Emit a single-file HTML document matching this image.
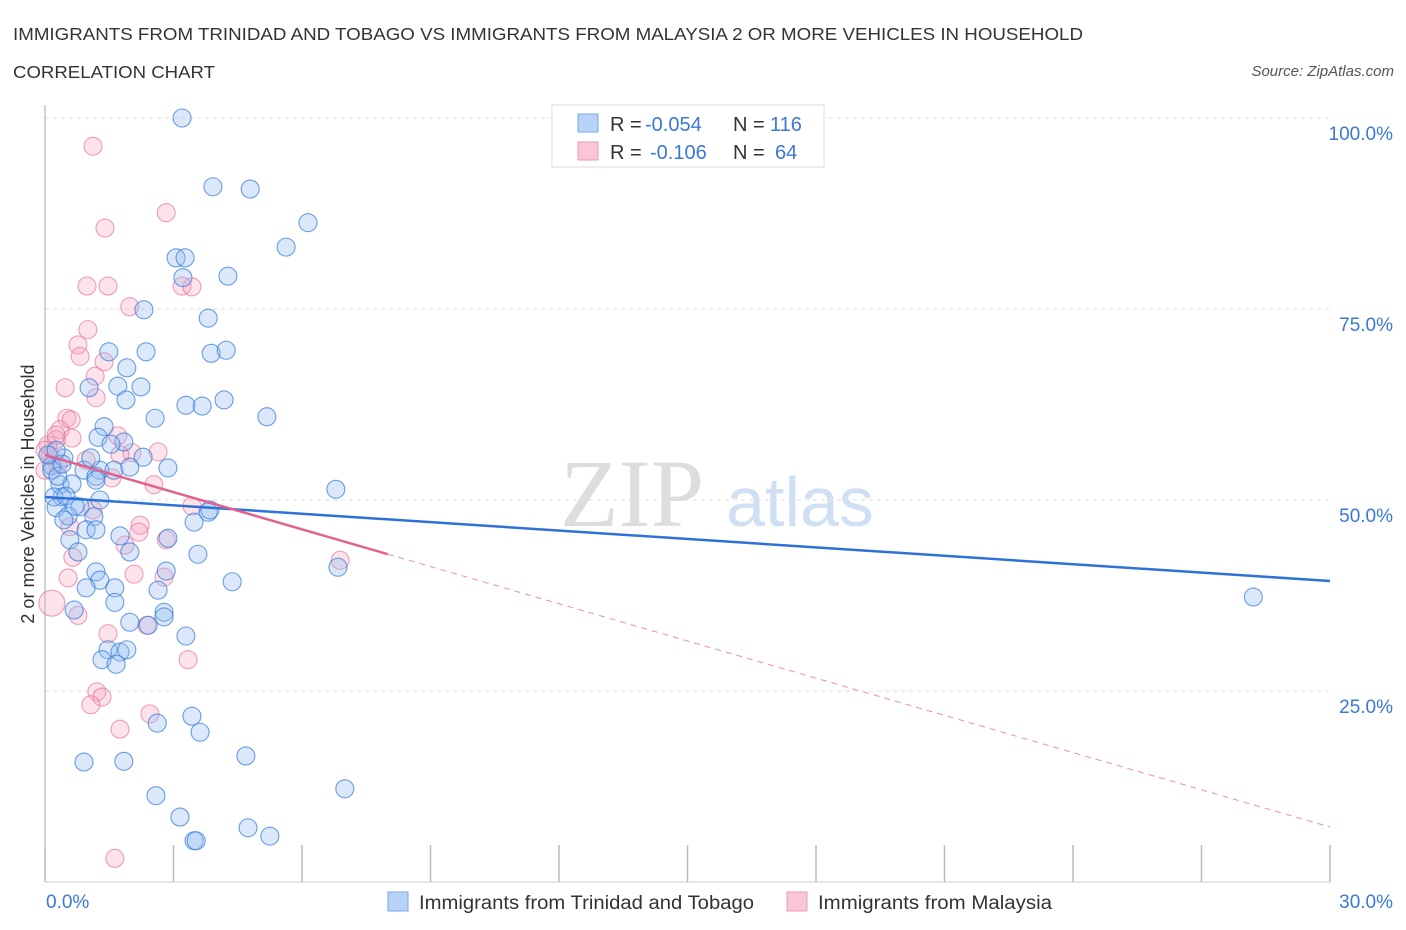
<!DOCTYPE html>
<html><head><meta charset="utf-8"><style>
body{margin:0;background:#fff;width:1406px;height:930px;overflow:hidden;font-family:"Liberation Sans",sans-serif}
svg{position:absolute;left:0;top:0}
</style></head><body>
<svg id="chart" width="1406" height="930">
<text x="13" y="40" font-size="17.5" fill="#333" textLength="1070" lengthAdjust="spacingAndGlyphs">IMMIGRANTS FROM TRINIDAD AND TOBAGO VS IMMIGRANTS FROM MALAYSIA 2 OR MORE VEHICLES IN HOUSEHOLD</text>
<text x="13" y="78" font-size="17.5" fill="#333" textLength="202" lengthAdjust="spacingAndGlyphs">CORRELATION CHART</text>
<text x="1394" y="76" font-size="15" fill="#555" font-style="italic" text-anchor="end">Source: ZipAtlas.com</text>
<text x="34" y="494" font-size="18" fill="#333" text-anchor="middle" transform="rotate(-90 34 494)">2 or more Vehicles in Household</text>
<g><text x="632" y="526" font-size="96" fill="#ddd" font-family="Liberation Serif,serif" text-anchor="middle">ZIP</text><text x="800" y="526" font-size="70" fill="#cfe0f3" text-anchor="middle">atlas</text></g>
<g id="grid"></g><g id="axes"></g><g id="pts"></g><g id="trends"></g>
<g>
<rect x="552" y="105" width="272" height="62" fill="#fff" stroke="#ddd"/>
<rect x="578" y="114" width="20" height="18" fill="#b8d3f5" stroke="#7aa8e6"/>
<rect x="578" y="142" width="20" height="18" fill="#f9c6d6" stroke="#eb9ab3"/>
<text x="610" y="131" font-size="20" fill="#333">R =</text>
<text x="645" y="131" font-size="20" fill="#3a78d8">-0.054</text>
<text x="733" y="131" font-size="20" fill="#333">N =</text>
<text x="770" y="131" font-size="20" fill="#3a78d8">116</text>
<text x="610" y="159" font-size="20" fill="#333">R =</text>
<text x="650" y="159" font-size="20" fill="#3a78d8">-0.106</text>
<text x="733" y="159" font-size="20" fill="#333">N =</text>
<text x="775" y="159" font-size="20" fill="#3a78d8">64</text>
</g>
<g>
<rect x="388" y="892" width="20" height="19" fill="#b8d3f5" stroke="#7aa8e6"/>
<text x="419" y="909" font-size="19" fill="#333" textLength="335" lengthAdjust="spacingAndGlyphs">Immigrants from Trinidad and Tobago</text>
<rect x="787" y="892" width="20" height="19" fill="#f9c6d6" stroke="#eb9ab3"/>
<text x="818" y="909" font-size="19" fill="#333" textLength="234" lengthAdjust="spacingAndGlyphs">Immigrants from Malaysia</text>
</g>
</svg>
<script>
const yTicks=[25,50,75,100];
const yTickLabels=["25.0%","50.0%","75.0%","100.0%"];
const xTicks=[0,3,6,9,12,15,18,21,24,27,30];
const xEndLabels=["0.0%","30.0%"];
const blueX=[3.20,3.92,4.79,6.14,5.63,3.06,3.27,3.22,4.27,2.31,3.81,1.49,2.36,3.88,4.23,1.91,1.03,1.70,2.24,1.89,4.18,3.29,3.67,2.57,5.18,1.38,1.24,1.84,1.54,2.29,0.44,1.28,1.61,1.98,2.87,0.16,0.91,1.19,0.35,0.63,0.40,0.21,1.28,0.82,1.14,0.26,0.54,0.44,3.81,3.48,6.79,0.96,1.19,1.75,2.87,0.58,0.77,1.98,3.57,1.19,1.28,4.37,1.63,0.96,2.64,2.83,1.63,0.68,1.98,2.78,2.78,2.41,3.29,1.47,1.75,1.91,1.33,1.66,6.84,3.85,2.62,3.43,3.62,4.69,0.91,1.84,2.59,3.15,3.48,3.53,4.74,5.25,7.00,28.21,0.16,0.30,0.40,0.07,0.26,0.49,0.70,1.07,1.19];
const blueY=[100,91.0,90.7,86.3,83.1,81.7,81.7,79.1,79.3,74.9,73.8,69.4,69.4,69.2,69.6,67.3,64.7,64.9,64.8,63.1,63.1,62.4,62.3,60.7,60.9,59.6,58.2,57.6,57.3,55.6,55.5,53.9,53.9,54.3,54.2,54.5,53.9,53.1,52.0,52.1,50.4,50.4,50.0,49.1,47.8,49.0,47.9,47.4,48.4,47.1,51.4,46.1,46.1,45.3,45.0,44.8,43.2,43.2,42.9,40.6,39.5,39.3,38.5,38.5,38.2,40.7,36.6,35.6,34.0,35.3,34.7,33.6,32.2,30.4,30.1,30.4,29.1,28.5,41.2,48.7,20.8,21.7,19.6,16.5,15.7,15.8,11.3,8.5,5.4,5.4,7.1,6.0,12.2,37.3,53.9,53.1,54.7,55.9,56.5,50.5,49.2,55.5,52.6];
const pinkX=[1.12,2.83,1.40,0.98,1.47,3.20,3.43,1.98,1.00,0.77,0.82,1.38,1.17,0.47,1.19,0.51,0.61,0.35,0.63,0.26,1.70,2.64,2.03,0.07,0.12,0.30,0.96,1.56,2.54,1.75,3.43,0.58,1.12,2.22,2.19,1.87,0.65,0.54,0.16,0.77,1.47,2.38,3.34,1.21,1.33,1.07,1.75,2.45,6.89,1.63,2.83,2.78,2.08,0.0,0.26,0.0];
const pinkY=[96.3,87.6,85.6,78.0,78.0,78.0,77.9,75.3,72.3,70.3,68.8,68.1,66.2,64.7,63.4,60.7,60.5,59.2,58.1,57.9,58.4,56.3,56.2,57.2,55.8,54.6,55.2,52.9,52.0,55.9,49.2,46.5,48.7,46.7,45.8,44.1,42.5,39.8,36.5,34.9,32.5,33.6,29.1,24.9,24.2,23.2,20.0,22.0,42.1,3.1,44.8,39.9,40.3,56.5,58.5,53.9];
const blueTrend=[50.4,39.4];
const pinkTrend=[55.9,7.2];
const pinkSolidEnd=8.0;
const NS="http://www.w3.org/2000/svg";
const X=v=>45+v*1285/30, Y=v=>882-v*7.64;
function mk(t,a,p){const e=document.createElementNS(NS,t);for(const k in a)e.setAttribute(k,a[k]);p.appendChild(e);return e;}
const grid=document.getElementById('grid'),axes=document.getElementById('axes'),pts=document.getElementById('pts'),tr=document.getElementById('trends');
yTicks.forEach((t,i)=>{
  const l=mk('line',{x1:45,x2:1330,y1:Y(t),y2:Y(t),stroke:'#ddd','stroke-dasharray':'4,4'},grid);
  
  
  const tx=mk('text',{x:1393,y:Y(t)+22,'font-size':19,fill:'#3a78d8','text-anchor':'end'},grid);
  tx.textContent=yTickLabels[i];
  
  
});
const ax=mk('line',{x1:45,x2:45,y1:105,y2:882,stroke:'#aaa'},axes);


const bx=mk('line',{x1:45,x2:1330,y1:882,y2:882,stroke:'#ccc'},axes);


xTicks.forEach(t=>{
  const l=mk('line',{x1:X(t),x2:X(t),y1:845,y2:882,stroke:'#bbb','stroke-width':1.5},axes);
  
  
});
[[0,'start',46],[1,'end',1393]].forEach(([i,a,x])=>{
  const tx=mk('text',{x:x,y:908,'font-size':19,fill:'#3a78d8','text-anchor':a},axes);
  tx.textContent=xEndLabels[i];
  
  
});
function dots(xs,ys,fill,stroke,name){
  xs.forEach((v,i)=>{
    const big=(name==='pink-point'&&xs[i]===0.16&&ys[i]===36.5);
    const c=mk('circle',{cx:X(v),cy:Y(ys[i]),r:big?13:9,fill:fill,stroke:stroke,'stroke-width':1.1},pts);
    
    
  });
}
dots(pinkX,pinkY,'rgba(245,160,190,0.3)','rgba(230,110,150,0.65)','pink-point');
dots(blueX,blueY,'rgba(150,190,240,0.35)','rgba(50,120,215,0.7)','blue-point');
const bt=mk('line',{x1:X(0),y1:Y(blueTrend[0]),x2:X(30),y2:Y(blueTrend[1]),stroke:'#2f72d6','stroke-width':2.5},tr);


const pf=v=>pinkTrend[0]+(pinkTrend[1]-pinkTrend[0])*v/30;
const ps=mk('line',{x1:X(0),y1:Y(pinkTrend[0]),x2:X(pinkSolidEnd),y2:Y(pf(pinkSolidEnd)),stroke:'#e2628f','stroke-width':2.5},tr);


const pd=mk('line',{x1:X(pinkSolidEnd),y1:Y(pf(pinkSolidEnd)),x2:X(30),y2:Y(pinkTrend[1]),stroke:'#ec8fb0','stroke-width':1,'stroke-dasharray':'6,5'},tr);


</script>
</body></html>
